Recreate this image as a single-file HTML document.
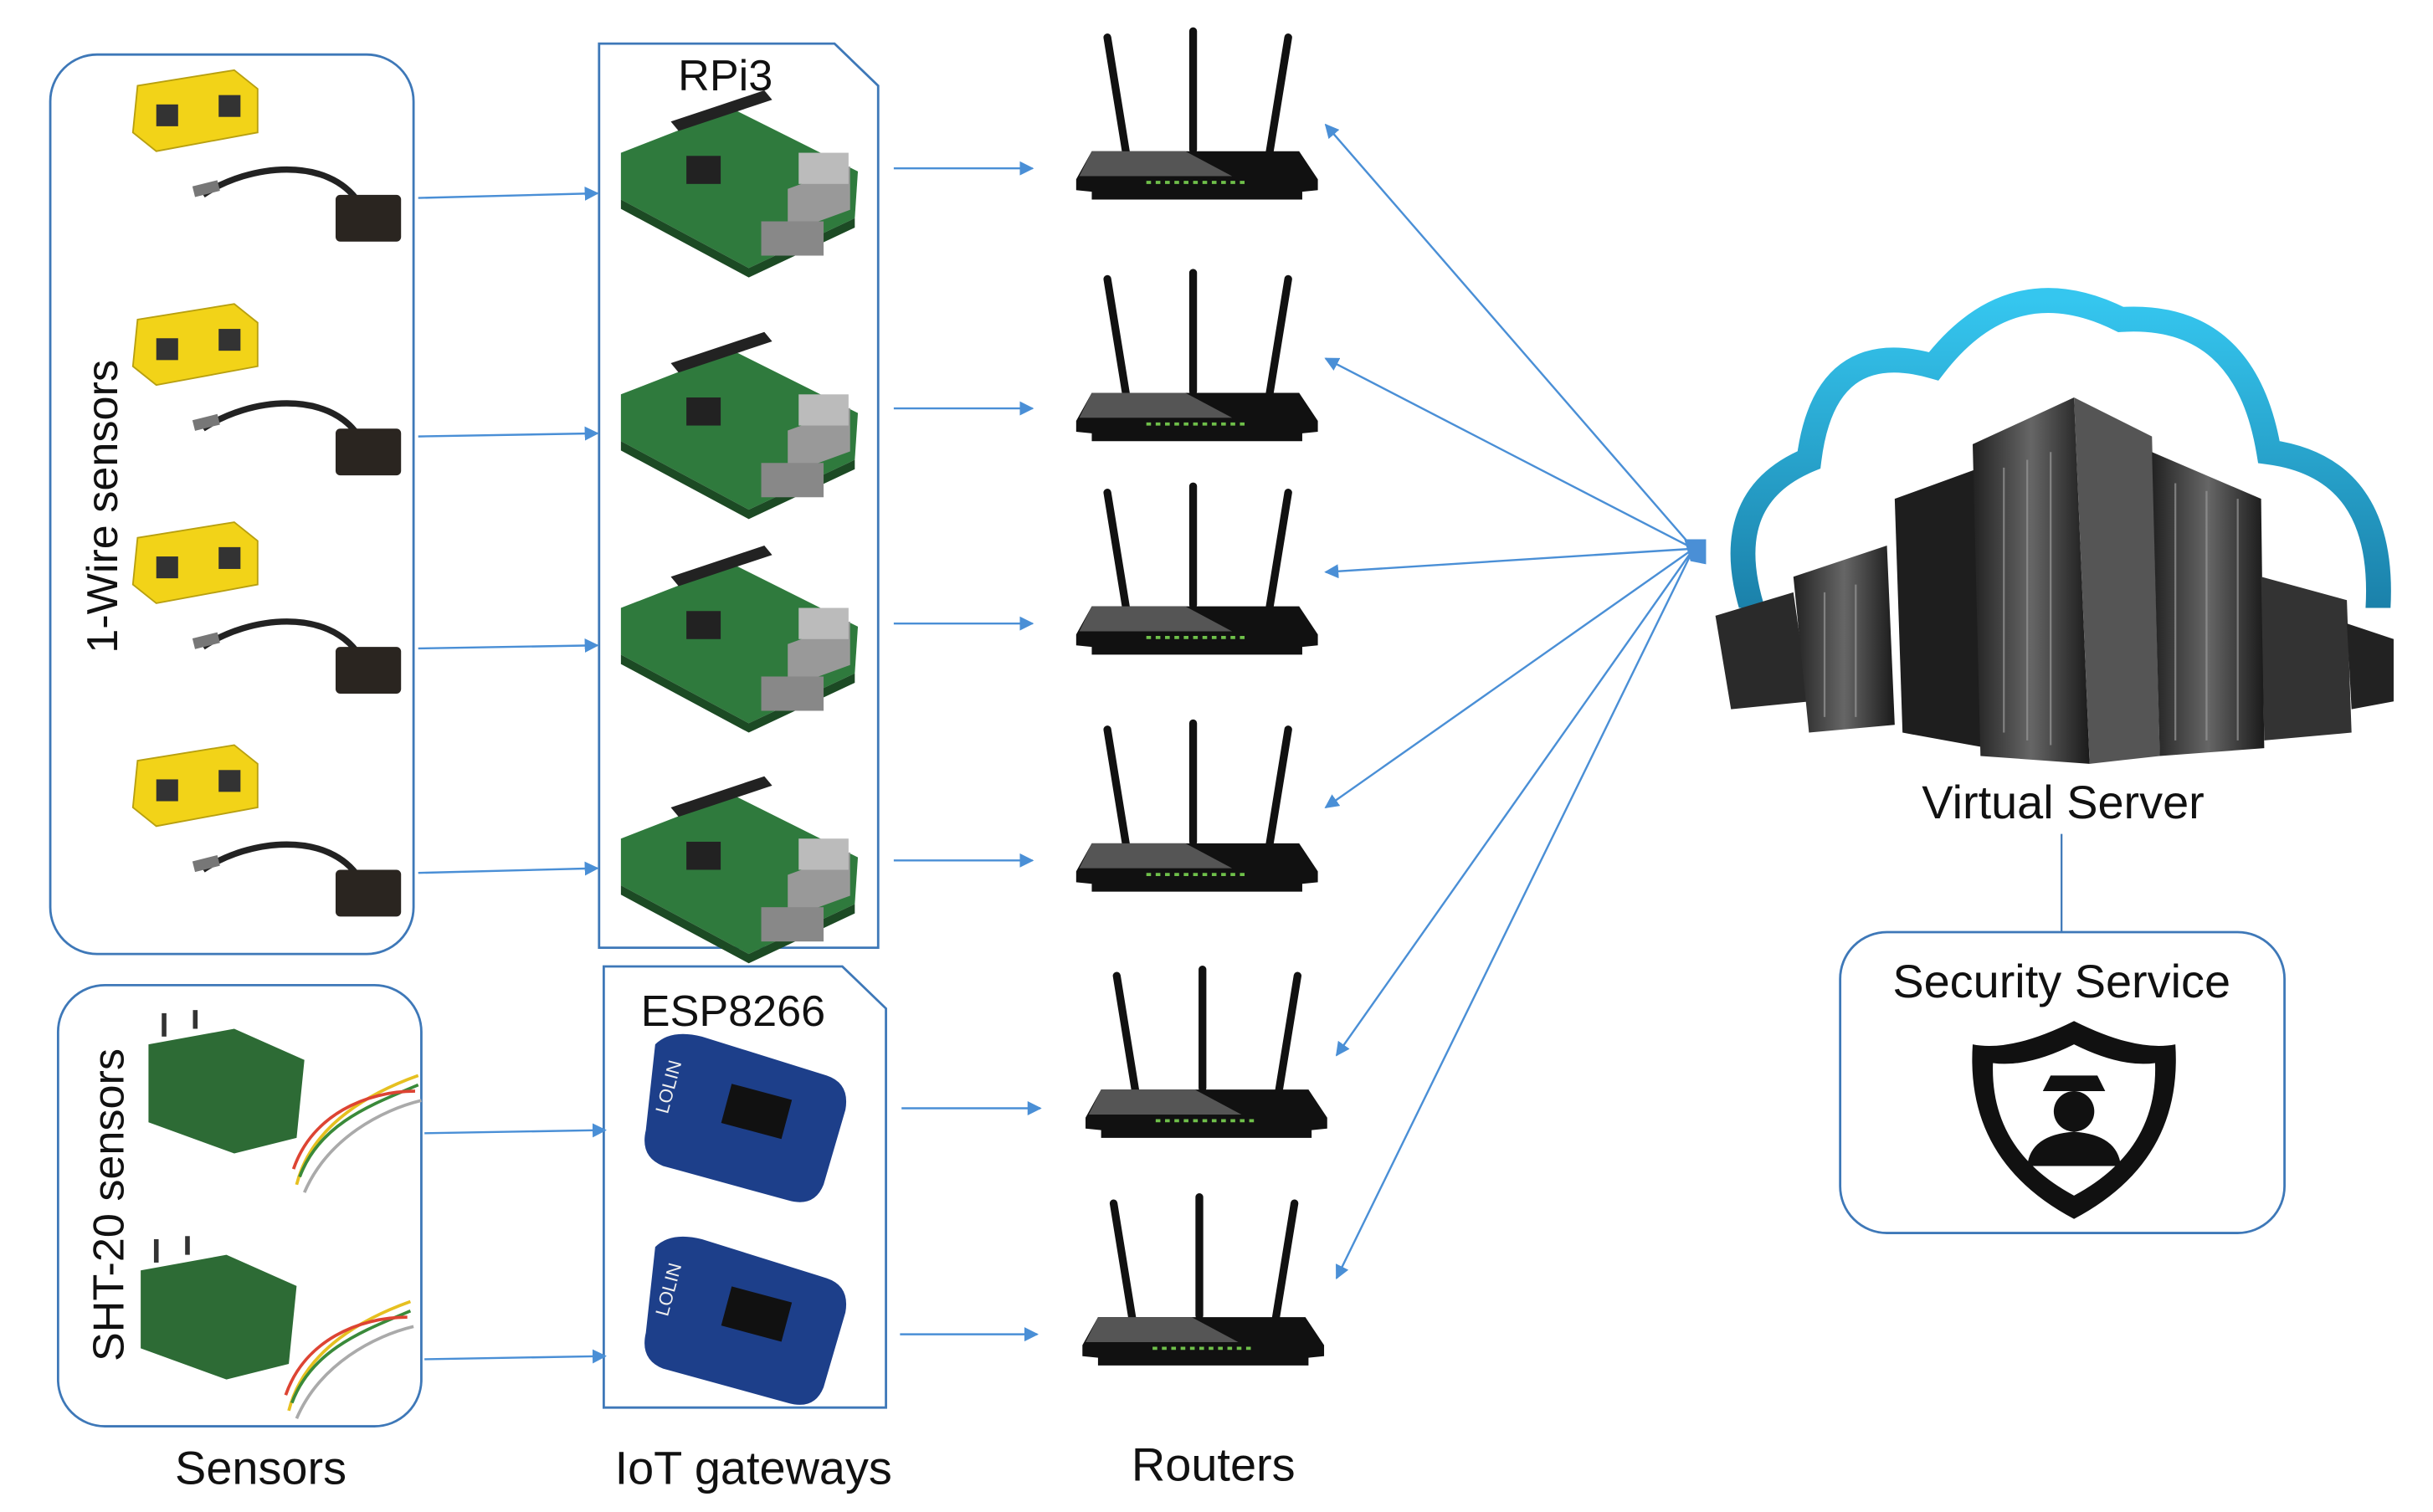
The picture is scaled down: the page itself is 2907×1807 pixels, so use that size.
<!DOCTYPE html>
<html><head><meta charset="utf-8"><style>
html,body{margin:0;padding:0;background:#fff;}
svg{display:block;}
text{font-family:"Liberation Sans",sans-serif;fill:#111;}
</style></head><body>
<svg width="2907" height="1807" viewBox="0 0 1560 970" xmlns="http://www.w3.org/2000/svg">
<defs>
<marker id="ah" viewBox="0 0 10 10" refX="9" refY="5" markerWidth="7" markerHeight="7" orient="auto-start-reverse"><path d="M0,0L10,5L0,10z" fill="#4a8fd6"/></marker>
<linearGradient id="cg" x1="0" y1="0" x2="0" y2="1"><stop offset="0" stop-color="#35c6ef"/><stop offset="1" stop-color="#1a7fa8"/></linearGradient>
<linearGradient id="sg" x1="0" y1="0" x2="1" y2="0"><stop offset="0" stop-color="#222"/><stop offset="0.5" stop-color="#666"/><stop offset="1" stop-color="#1a1a1a"/></linearGradient>
<g id="router">
<line x1="710" y1="24" x2="722" y2="98" stroke="#111" stroke-width="5" stroke-linecap="round"/>
<line x1="765" y1="20" x2="765" y2="96" stroke="#111" stroke-width="5" stroke-linecap="round"/>
<line x1="826" y1="24" x2="814" y2="98" stroke="#111" stroke-width="5" stroke-linecap="round"/>
<path d="M700,97 L833,97 L845,115 L845,122 L835,123 L835,128 L700,128 L700,123 L690,122 L690,115 Z" fill="#111"/>
<path d="M700,97 L760,97 L790,113 L692,113 Z" fill="#555"/>
<line x1="735" y1="117" x2="800" y2="117" stroke="#6fc04a" stroke-width="2" stroke-dasharray="3,3"/>
</g>
<g id="ysens">
<path d="M88,10 L150,0 L165,12 L165,40 L100,52 L85,40 Z" fill="#f2d318" stroke="#b8a010"/>
<rect x="100" y="22" width="14" height="14" fill="#333"/><rect x="140" y="16" width="14" height="14" fill="#333"/>
<path d="M130,80 C160,60 210,55 230,85 L250,90" stroke="#222" stroke-width="4" fill="none"/>
<path d="M124,78 L140,74" stroke="#777" stroke-width="7"/>
<rect x="215" y="80" width="42" height="30" fill="#2a2520" rx="3"/>
</g>
<g id="rpi">
<path d="M398,98 L470,70 L550,110 L548,140 L480,172 L398,128 Z" fill="#2f7a3d"/>
<path d="M398,128 L480,172 L548,140 L548,146 L480,178 L398,134Z" fill="#1c4a24"/>
<rect x="505" y="120" width="40" height="28" fill="#999" transform="skewY(-20) translate(0,185)"/>
<rect x="440" y="100" width="22" height="18" fill="#222"/>
<path d="M430,78 L490,58 L495,64 L435,84Z" fill="#222"/>
<rect x="512" y="98" width="32" height="20" fill="#bbb"/>
<rect x="488" y="142" width="40" height="22" fill="#888"/>
</g>
<g id="esp">
<path d="M420,670 Q430,660 450,665 L530,690 Q545,695 542,712 L528,760 Q522,775 505,770 L425,748 Q410,742 414,725 Z" fill="#1d3f8a"/>
<rect x="465" y="700" width="40" height="26" fill="#111" transform="rotate(15 485 713)"/>
<text x="428" y="715" font-size="12" fill="#eee" style="fill:#eee" transform="rotate(-75 428 715)">LOLIN</text>
</g>
<g id="sht">
<path d="M95,670 L150,660 L195,680 L190,730 L150,740 L95,720 Z" fill="#2d6b35"/>
<line x1="105" y1="665" x2="105" y2="650" stroke="#333" stroke-width="3"/><line x1="125" y1="660" x2="125" y2="648" stroke="#333" stroke-width="3"/>
<path d="M190,760 C200,720 240,700 268,690" stroke="#e6c020" stroke-width="2" fill="none"/>
<path d="M192,755 C205,720 240,708 268,696" stroke="#3a8a3a" stroke-width="2" fill="none"/>
<path d="M188,750 C200,715 235,700 266,700" stroke="#d43" stroke-width="2" fill="none"/>
<path d="M195,765 C210,730 245,712 270,706" stroke="#aaa" stroke-width="2" fill="none"/>
</g>
</defs>

<!-- sensor boxes -->
<rect x="32" y="35" width="233" height="577" rx="30" fill="none" stroke="#3e78b8" stroke-width="1.5"/>
<rect x="37" y="632" width="233" height="283" rx="30" fill="none" stroke="#3e78b8" stroke-width="1.5"/>
<text x="75" y="325" font-size="28" text-anchor="middle" transform="rotate(-90 75 325)">1-Wire sensors</text>
<text x="79" y="773" font-size="28" text-anchor="middle" transform="rotate(-90 79 773)">SHT-20  sensors</text>
<use href="#ysens" transform="translate(0,45)"/>
<use href="#ysens" transform="translate(0,195)"/>
<use href="#ysens" transform="translate(0,335)"/>
<use href="#ysens" transform="translate(0,478)"/>
<use href="#sht"/>
<use href="#sht" transform="translate(-5,145)"/>

<!-- gateway boxes -->
<path d="M384,28 L535,28 L563,55 L563,608 L384,608 Z" fill="none" stroke="#3e78b8" stroke-width="1.5"/>
<path d="M387,620 L540,620 L568,647 L568,903 L387,903 Z" fill="none" stroke="#3e78b8" stroke-width="1.5"/>
<text x="465" y="58" font-size="28" text-anchor="middle">RPi3</text>
<text x="470" y="658" font-size="28" text-anchor="middle">ESP8266</text>
<use href="#rpi"/>
<use href="#rpi" transform="translate(0,155)"/>
<use href="#rpi" transform="translate(0,292)"/>
<use href="#rpi" transform="translate(0,440)"/>
<use href="#esp"/>
<use href="#esp" transform="translate(0,130)"/>

<!-- routers -->
<use href="#router"/>
<use href="#router" transform="translate(0,155)"/>
<use href="#router" transform="translate(0,292)"/>
<use href="#router" transform="translate(0,444)"/>
<use href="#router" transform="translate(6,602)"/>
<use href="#router" transform="translate(4,748)"/>

<!-- arrows -->
<g stroke="#4a8fd6" stroke-width="1.3" fill="none" marker-end="url(#ah)">
<line x1="268" y1="127" x2="383" y2="124"/>
<line x1="268" y1="280" x2="383" y2="278"/>
<line x1="268" y1="416" x2="383" y2="414"/>
<line x1="268" y1="560" x2="383" y2="557"/>
<line x1="272" y1="727" x2="388" y2="725"/>
<line x1="272" y1="872" x2="388" y2="870"/>
<line x1="573" y1="108" x2="662" y2="108"/>
<line x1="573" y1="262" x2="662" y2="262"/>
<line x1="573" y1="400" x2="662" y2="400"/>
<line x1="573" y1="552" x2="662" y2="552"/>
<line x1="578" y1="711" x2="667" y2="711"/>
<line x1="577" y1="856" x2="665" y2="856"/>
</g>
<g stroke="#4a8fd6" stroke-width="1.3" fill="none" marker-start="url(#ah)">
<line x1="850" y1="80" x2="1086" y2="352"/>
<line x1="850" y1="230" x2="1086" y2="352"/>
<line x1="850" y1="367" x2="1086" y2="352"/>
<line x1="850" y1="518" x2="1086" y2="352"/>
<line x1="857" y1="677" x2="1086" y2="352"/>
<line x1="857" y1="820" x2="1086" y2="352"/>
</g>
<path d="M1080,346 L1094,346 L1094,362 L1084,360 Z" fill="#4a8fd6"/>

<!-- cloud -->
<path d="M1125,395 Q1100,320 1160,295 Q1170,215 1240,235 Q1290,170 1360,205 Q1440,200 1455,290 Q1530,300 1525,390" fill="none" stroke="url(#cg)" stroke-width="16" stroke-linecap="round"/>
<rect x="1105" y="390" width="430" height="50" fill="#fff"/>
<g>
<path d="M1100,395 L1150,380 L1160,450 L1110,455Z" fill="#2a2a2a"/>
<path d="M1150,370 L1210,350 L1215,465 L1160,470Z" fill="url(#sg)"/>
<path d="M1215,320 L1270,300 L1275,480 L1220,470Z" fill="#1e1e1e"/>
<path d="M1265,285 L1330,255 L1340,490 L1270,485Z" fill="url(#sg)"/>
<path d="M1330,255 L1380,280 L1385,485 L1340,490Z" fill="#555"/>
<path d="M1380,290 L1450,320 L1452,480 L1385,485Z" fill="url(#sg)"/>
<path d="M1450,370 L1505,385 L1508,470 L1452,475Z" fill="#333"/>
<path d="M1505,400 L1535,410 L1535,450 L1508,455Z" fill="#222"/>
<g stroke="#999" stroke-width="1.2" opacity="0.7">
<line x1="1285" y1="300" x2="1285" y2="470"/><line x1="1300" y1="295" x2="1300" y2="475"/><line x1="1315" y1="290" x2="1315" y2="478"/>
<line x1="1395" y1="310" x2="1395" y2="475"/><line x1="1415" y1="315" x2="1415" y2="475"/><line x1="1435" y1="320" x2="1435" y2="475"/>
<line x1="1170" y1="380" x2="1170" y2="460"/><line x1="1190" y1="375" x2="1190" y2="460"/>
</g>
</g>
<text x="1323" y="525" font-size="30" text-anchor="middle">Virtual Server</text>
<line x1="1322" y1="535" x2="1322" y2="598" stroke="#3e78b8" stroke-width="1.2"/>
<rect x="1180" y="598" width="285" height="193" rx="30" fill="none" stroke="#3e78b8" stroke-width="1.5"/>
<text x="1322" y="640" font-size="30" text-anchor="middle">Security Service</text>
<path d="M1330,655 Q1370,675 1395,670 Q1400,745 1330,782 Q1260,745 1265,670 Q1290,675 1330,655Z" fill="#111"/>
<path d="M1330,670 Q1360,685 1382,682 Q1384,738 1330,767 Q1276,738 1278,682 Q1300,685 1330,670Z" fill="#fff"/>
<path d="M1310,700 L1350,700 L1345,690 L1315,690Z" fill="#111"/>
<circle cx="1330" cy="713" r="13" fill="#111"/>
<path d="M1300,748 Q1302,728 1330,726 Q1358,728 1360,748Z" fill="#111"/>

<text x="167" y="952" font-size="30" text-anchor="middle">Sensors</text>
<text x="483" y="952" font-size="30" text-anchor="middle">IoT gateways</text>
<text x="778" y="950" font-size="30" text-anchor="middle">Routers</text>
</svg>
</body></html>
